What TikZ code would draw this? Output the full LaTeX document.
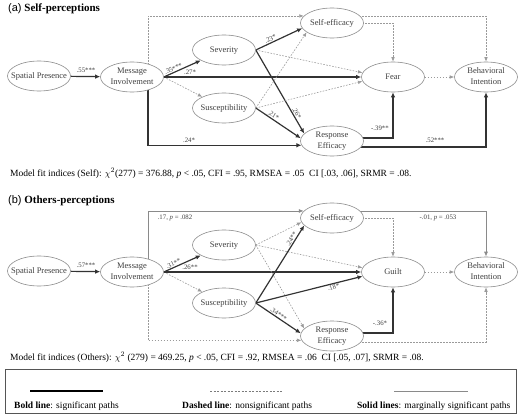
\documentclass[tikz,border=0pt]{standalone}
\usepackage{fontspec}
\setmainfont{Liberation Serif}
\newfontfamily\arialf{Liberation Sans}
\usetikzlibrary{shapes.geometric,arrows.meta,backgrounds}
\definecolor{ell}{HTML}{8C8C8C}
\definecolor{txt}{HTML}{404040}
\definecolor{boldc}{HTML}{333333}
\definecolor{dashc}{HTML}{9A9A9A}
\definecolor{thinc}{HTML}{8A8A8A}
\definecolor{legc}{HTML}{555555}
\newcommand{\ctx}[1]{\makebox[0pt]{\begin{tabular}{@{}c@{}}#1\end{tabular}}}
\begin{document}
\begin{tikzpicture}[x=1pt,y=-1pt,
  lat/.style={ellipse, draw=ell, line width=0.6pt, fill=white, minimum width=63pt, minimum height=30pt, inner sep=0pt, font=\fontsize{8.5}{10.2}\selectfont, text=txt},
  sig/.style={draw=boldc, line width=1.2pt, -{Latex[length=5pt,width=4.5pt]}},
  ns/.style={draw=dashc, line width=0.6pt, dash pattern=on 1.6pt off 1.4pt, -{Latex[length=4.5pt,width=3.6pt]}},
  marg/.style={draw=thinc, line width=0.8pt, -{Latex[length=5pt,width=4pt]}},
  lbl/.style={font=\fontsize{6.8}{7.5}\selectfont, text=txt, inner sep=0.8pt},
  ttl/.style={anchor=west, font=\fontsize{11}{13}\selectfont, inner sep=0pt},
  fit/.style={anchor=west, font=\fontsize{9.5}{11}\selectfont, inner sep=0pt},
  leg/.style={anchor=west, font=\fontsize{9.5}{11}\selectfont, inner sep=0pt},
]
\useasboundingbox (0,0) rectangle (520,415);
% ---------- panel a ----------
\node[ttl] (ta) at (8,9) {{\arialf (a)} \textbf{Self-perceptions}};
\node[lat] (sp1) at (39,76) {\ctx{Spatial Presence}};
\node[lat] (mi1) at (132,77) {\ctx{Message\\Involvement}};
\node[lat] (sev1) at (224,50) {\ctx{Severity}};
\node[lat] (sus1) at (224,108) {\ctx{Susceptibility}};
\node[lat] (se1) at (332,23) {\ctx{Self-efficacy}};
\node[lat] (fear1) at (393,77) {\ctx{Fear}};
\node[lat] (bi1) at (486,77) {\ctx{Behavioral\\Intention}};
\node[lat] (re1) at (332,141) {\ctx{Response\\Efficacy}};
\begin{scope}[on background layer]
\draw[sig] (sp1) -- (mi1);
\draw[sig] (mi1.east) -- node[lbl, sloped, above, pos=0.3] {.35***} (sev1);
\draw[ns] (mi1.east) -- (sus1);
\draw[sig] (mi1.east) -- (fear1.west);
\draw[sig] ([xshift=16pt]mi1.center) |- (re1.188);
\draw[ns] ([xshift=16pt]mi1.center) |- (se1.166);
\draw[sig] (sev1.east) -- node[lbl, sloped, above, pos=0.35] {.23*} (se1.190);
\draw[ns] (sev1.east) -- (fear1.172);
\draw[sig] (sev1.east) -- node[lbl, sloped, above, pos=0.78] {.26*} (re1.165);
\draw[ns] (sus1.east) -- (se1.200);
\draw[ns] (sus1.east) -- (fear1.188);
\draw[sig] (sus1.east) -- node[lbl, sloped, above, pos=0.35] {.21*} (re1.175);
\draw[ns] (se1.center) -| (fear1.north);
\draw[ns] ([yshift=7pt]se1.center) -| (bi1.north);
\draw[ns] (fear1) -- (bi1);
\draw[sig] ([yshift=3pt]re1.center) -| (fear1.south);
\draw[sig] ([yshift=-6pt]re1.center) -| (bi1.south);
\end{scope}
\node[lbl] (l55) at (86,70) {.55***};
\node[lbl] (l27) at (190,72) {.27*};
\node[lbl] (l24) at (189,140) {.24*};
\node[lbl] (l39) at (380,128) {-.39**};
\node[lbl] (l52) at (435,140) {.52***};
\node[fit] (fa) at (10,173) {Model fit indices (Self): $\chi^2$(277) = 376.88, \textit{p} < .05, CFI = .95, RMSEA = .05~~CI [.03, .06], SRMR = .08.};
% ---------- panel b ----------
\node[ttl] (tb) at (8,201) {{\arialf (b)} \textbf{Others-perceptions}};
\node[lat] (sp2) at (39,271) {\ctx{Spatial Presence}};
\node[lat] (mi2) at (132,272) {\ctx{Message\\Involvement}};
\node[lat] (sev2) at (224,245) {\ctx{Severity}};
\node[lat] (sus2) at (224,303) {\ctx{Susceptibility}};
\node[lat] (se2) at (332,218) {\ctx{Self-efficacy}};
\node[lat] (gu2) at (393,272) {\ctx{Guilt}};
\node[lat] (bi2) at (486,272) {\ctx{Behavioral\\Intention}};
\node[lat] (re2) at (332,336) {\ctx{Response\\Efficacy}};
\begin{scope}[on background layer]
\draw[sig] (sp2) -- (mi2);
\draw[sig] (mi2.east) -- node[lbl, sloped, above, pos=0.3] {.31**} (sev2);
\draw[ns] (mi2.east) -- (sus2);
\draw[sig] (mi2.east) -- (gu2.west);
\draw[marg] ([xshift=16pt]mi2.center) |- (se2.166);
\draw[ns] ([xshift=16pt]mi2.center) |- (re2.188);
\draw[ns] (sev2.east) -- (se2.188);
\draw[ns] (sev2.east) -- (gu2.172);
\draw[ns] (sev2.east) -- (re2.165);
\draw[sig] (sus2.east) -- node[lbl, sloped, above, pos=0.8] {.24**} (se2.195);
\draw[sig] (sus2.east) -- node[lbl, sloped, below, pos=0.72] {.18*} (gu2.188);
\draw[sig] (sus2.east) -- node[lbl, sloped, above, pos=0.46] {.34***} (re2.175);
\draw[ns] (se2.center) -| (gu2.north);
\draw[marg] ([yshift=7pt]se2.center) -| (bi2.north);
\draw[ns] (gu2) -- (bi2);
\draw[sig] ([yshift=3pt]re2.center) -| (gu2.south);
\draw[ns] ([yshift=-6pt]re2.center) -| (bi2.south);
\end{scope}
\node[lbl] (l57) at (86,265) {.57***};
\node[lbl] (l26) at (190,267) {.26**};
\node[lbl] (l17) at (175,218) {.17, \textit{p} = .082};
\node[lbl] (l01) at (438,218) {-.01, \textit{p} = .053};
\node[lbl] (l36) at (380,323) {-.36*};
\node[fit] (fb) at (10,357) {Model fit indices (Others): $\chi^2$ (279) = 469.25, \textit{p} < .05, CFI = .92, RMSEA = .06~~CI [.05, .07], SRMR = .08.};
% ---------- legend ----------
\draw[draw=legc, line width=0.8pt] (5,369) rectangle (516,413);
\draw[black, line width=1.8pt] (30,391) -- (103,391);
\draw[dashc!80!black, line width=0.6pt, dash pattern=on 2pt off 1.5pt] (210,391) -- (283,391);
\draw[thinc, line width=0.8pt] (394,391) -- (468,391);
\node[leg] (lg1) at (14,406) {\textbf{Bold line}: significant paths};
\node[leg] (lg2) at (182,406) {\textbf{Dashed line}: nonsignificant paths};
\node[leg] (lg3) at (357,406) {\textbf{Solid lines}: marginally significant paths};
\end{tikzpicture}
\end{document}
